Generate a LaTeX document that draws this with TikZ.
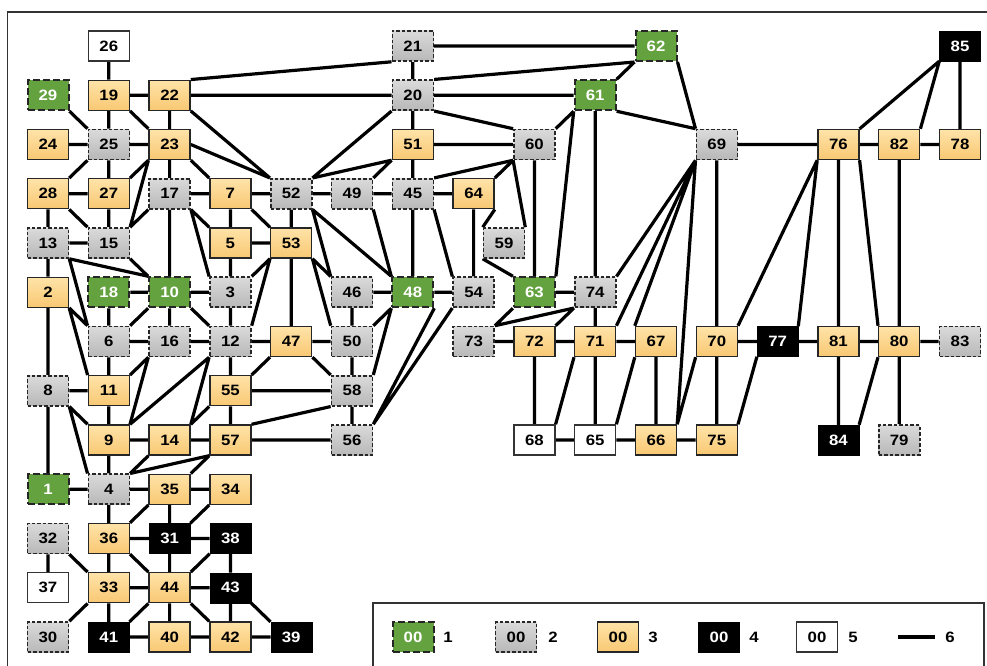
\documentclass[tikz,border=0pt]{standalone}
\usepackage{fontspec}
\setmainfont{Liberation Sans}[FakeStretch=1.12]
\usepackage{xcolor}
\usetikzlibrary{backgrounds}
\definecolor{ggreen}{HTML}{63A23F}
\definecolor{otop}{HTML}{FFE3A8}
\definecolor{obot}{HTML}{F8C873}
\definecolor{stop}{HTML}{DADADA}
\definecolor{sbot}{HTML}{B8B8B8}

\begin{document}
\begin{tikzpicture}[x=1pt,y=-1pt,
	box/.style={minimum width=41pt,minimum height=30pt,inner sep=0pt,font=\fontsize{15pt}{15pt}\selectfont\bfseries},
	gbox/.style={box,fill=ggreen,draw=black!85,line width=2pt,dash pattern=on 7pt off 3pt,text=white},
	sbox/.style={box,top color=stop,bottom color=sbot,draw=black!85,line width=1.6pt,dash pattern=on 3.5pt off 2pt},
	obox/.style={box,top color=otop,bottom color=obot,draw=black!85,line width=1.4pt},
	kbox/.style={box,fill=black,draw=black,text=white},
	wbox/.style={box,fill=white,draw=black!80,line width=1.4pt},
	lab/.style={font=\fontsize{15pt}{15pt}\selectfont\bfseries},
	link/.style={line width=3.2pt}]
	\useasboundingbox (0,0) rectangle (987,666);
	\clip (0,0) rectangle (987,666);
	\draw[line width=1.5pt,black!80] (7.5,12) rectangle (1000,690); % frame
	
	% nodes: name/column/row
	\foreach \n/\c/\r in {29/0/1,18/1/5,10/2/5,1/0/9,62/10/0,61/9/1,48/6/5,63/8/5}
	\node[gbox] (n\n) at ({48+60.8*\c},{46+49.25*\r}) {\n};
	\foreach \n/\c/\r in {25/1/2,17/2/3,52/4/3,13/0/4,15/1/4,3/3/5,6/1/6,16/2/6,12/3/6,8/0/7,4/1/9,32/0/10,30/0/12,
		21/6/0,20/6/1,49/5/3,45/6/3,46/5/5,50/5/6,58/5/7,56/5/8,60/8/2,59/7.5/4,54/7/5,73/7/6,74/9/5,69/11/2,83/15/6,79/14/8}
	\node[sbox] (n\n) at ({48+60.8*\c},{46+49.25*\r}) {\n};
	\foreach \n/\c/\r in {19/1/1,22/2/1,24/0/2,23/2/2,28/0/3,27/1/3,7/3/3,5/3/4,53/4/4,2/0/5,11/1/7,55/3/7,47/4/6,9/1/8,
		14/2/8,57/3/8,35/2/9,34/3/9,36/1/10,33/1/11,44/2/11,40/2/12,42/3/12,51/6/2,64/7/3,72/8/6,71/9/6,67/10/6,
		66/10/8,75/11/8,70/11/6,76/13/2,82/14/2,78/15/2,81/13/6,80/14/6}
	\node[obox] (n\n) at ({48+60.8*\c},{46+49.25*\r}) {\n};
	\foreach \n/\c/\r in {31/2/10,38/3/10,43/3/11,41/1/12,39/4/12,77/12/6,84/13/8,85/15/0}
	\node[kbox] (n\n) at ({48+60.8*\c},{46+49.25*\r}) {\n};
	\foreach \n/\c/\r in {26/1/0,37/0/11,68/8/8,65/9/8}
	\node[wbox] (n\n) at ({48+60.8*\c},{46+49.25*\r}) {\n};
	
	\begin{scope}[on background layer]
		\fill[white] (0,0) rectangle (987,666);
		% upper left
		\draw[link] (n26) -- (n19) (n19) -- (n22) (n19) -- (n25) (n19.south east) -- (n23.north west)
		(n22) -- (n23) (n22.north east) -- (n21.south west) (n22) -- (n20) (n22.south east) -- (n52.north west)
		(n29.south east) -- (n25.north west) (n24) -- (n25) (n25) -- (n23) (n25.south west) -- (n28.north east)
		(n25) -- (n27) (n23.east) -- (n52.north west) (n23) -- (n17) (n23.south east) -- (n7.north west)
		(n23.south west) -- (n27.north east) (n23.south west) -- (n15.north east) (n28) -- (n27) (n28) -- (n13)
		(n28.south east) -- (n15.north west) (n27) -- (n15) (n17) -- (n7) (n7) -- (n52) (n52) -- (n49)
		(n17.south west) -- (n15.north east) (n17) -- (n10) (n17.south east) -- (n5.north west)
		(n17.south east) -- (n3.north west) (n7) -- (n5) (n7.south east) -- (n53.north west) (n5) -- (n53)
		(n5) -- (n3) (n52) -- (n53) (n53.south west) -- (n3.north east) (n53.south west) -- (n12.north east)
		(n53) -- (n47) (n53.south east) -- (n46.north west) (n53.south east) -- (n50.north west)
		(n52.south east) -- (n46.north west) (n52.south east) -- (n48.north west);
		% middle
		\draw[link] (n52.north east) -- (n51.south west) (n52.north east) -- (n20.south west) (n49) -- (n45)
		(n49.north east) -- (n51.south west) (n49.south east) -- (n48.north west) (n45) -- (n48)
		(n45.south east) -- (n54.north west) (n45) -- (n64) (n45.north east) -- (n60.south west) (n51) -- (n45)
		(n51) -- (n60) (n20) -- (n51) (n20.south east) -- (n60.north west) (n21) -- (n20) (n21) -- (n62)
		(n20.north east) -- (n62.south west) (n20) -- (n61) (n60.south west) -- (n64.north east)
		(n60.south west) -- (n59.north east) (n64) -- (n54) (n64.south east) -- (n59.north west)
		(n59.south west) -- (n63.north west) (n60) -- (n63) (n61.south west) -- (n63.north east)
		(n61.south west) -- (n60.north east) (n61) -- (n74) (n61.north east) -- (n62.south west)
		(n61.south east) -- (n69.north west) (n62.south east) -- (n69.north west)
		(n46) -- (n48) (n48) -- (n54) (n46) -- (n50) (n48.south west) -- (n50.north east)
		(n48.south west) -- (n58.north east) (n48.south east) -- (n56.north east) (n54.south west) -- (n56.north east)
		(n50) -- (n58) (n47) -- (n50) (n12) -- (n47) (n47.south west) -- (n55.north east)
		(n47.south east) -- (n58.north west) (n55) -- (n58) (n58) -- (n56) (n58.south west) -- (n57.north east)
		(n57) -- (n56);
		% right
		\draw[link] (n69) -- (n76) (n69.south west) -- (n74.north east) (n69.south west) -- (n71.north east)
		(n69.south west) -- (n67.north west) (n69.south west) -- (n66.north east) (n69) -- (n70) (n63) -- (n74)
		(n63.south west) -- (n73.north east) (n74.south west) -- (n73.north east) (n74.south west) -- (n72.north east)
		(n74) -- (n71) (n73) -- (n72) (n72) -- (n71) (n71) -- (n67) (n72) -- (n68) (n68.north east) -- (n71.south west)
		(n68) -- (n65) (n65) -- (n71) (n65.north east) -- (n67.south west) (n65) -- (n66) (n67) -- (n66)
		(n66.north east) -- (n70.south west) (n66) -- (n75) (n70) -- (n75) (n70) -- (n77)
		(n75.north east) -- (n77.south west) (n76.south west) -- (n70.north east) (n76.south west) -- (n77.north east)
		(n76) -- (n81) (n76.south east) -- (n80.north west) (n76) -- (n82) (n82) -- (n78) (n82) -- (n80)
		(n85.south west) -- (n76.north east) (n85.south west) -- (n82.north east) (n85) -- (n78) (n77) -- (n81)
		(n81) -- (n80) (n80) -- (n83) (n81) -- (n84) (n80.south west) -- (n84.north east) (n80) -- (n79);
		% lower left
		\draw[link] (n13) -- (n15) (n13) -- (n2) (n13.south east) -- (n10.north west) (n15.south east) -- (n10.north west)
		(n13.south east) -- (n6.north west) (n2.south east) -- (n6.north west) (n2.south east) -- (n11.north west)
		(n18) -- (n10) (n18) -- (n6) (n10) -- (n3) (n10.south west) -- (n6.north east) (n10) -- (n16)
		(n10.south east) -- (n12.north west) (n3) -- (n12) (n6) -- (n16) (n16) -- (n12) (n6) -- (n11)
		(n16.south west) -- (n11.north east) (n16.south west) -- (n9.north east) (n12.south west) -- (n9.north east)
		(n12.south west) -- (n14.north east) (n12) -- (n55) (n8) -- (n11) (n2) -- (n8) (n8) -- (n1)
		(n8.south east) -- (n9.north west) (n8.south east) -- (n4.north west) (n11) -- (n9) (n9) -- (n14)
		(n14) -- (n57) (n55) -- (n57) (n55.south west) -- (n14.north east) (n9) -- (n4)
		(n14.south west) -- (n4.north east) (n57.south west) -- (n4.north east) (n57.south west) -- (n35.north east)
		(n1) -- (n4) (n4) -- (n35) (n4) -- (n36) (n35) -- (n34) (n35.south west) -- (n36.north east) (n35) -- (n31)
		(n34.south west) -- (n31.north east) (n36) -- (n31) (n31) -- (n38) (n36) -- (n33)
		(n36.south east) -- (n44.north west) (n31) -- (n44) (n38.south west) -- (n44.north east) (n38) -- (n43)
		(n32) -- (n37) (n32.south east) -- (n33.north west) (n33) -- (n44) (n44) -- (n43)
		(n33.south west) -- (n30.north east) (n33) -- (n41) (n44.south west) -- (n41.north east) (n44) -- (n40)
		(n44.south east) -- (n42.north west) (n43) -- (n42) (n43.south east) -- (n39.north west)
		(n41) -- (n40) (n40) -- (n42) (n42) -- (n39);
	\end{scope}
	
	% legend
	\draw[line width=1.5pt,black!80] (373,603) rectangle (984,700);
	\node[gbox] (l1) at (413,637) {00};
	\node[lab] (t1) at (448,637) {1};
	\node[sbox] (l2) at (516,637) {00};
	\node[lab] (t2) at (553,637) {2};
	\node[obox] (l3) at (618,637) {00};
	\node[lab] (t3) at (653,637) {3};
	\node[kbox] (l4) at (719,637) {00};
	\node[lab] (t4) at (754,637) {4};
	\node[wbox] (l5) at (817,637) {00};
	\node[lab] (t5) at (853,637) {5};
	\coordinate (l6a) at (898,637);
	\coordinate (l6b) at (935,637);
	\draw[link] (l6a) -- (l6b);
	\node[lab] (t6) at (950,637) {6};
\end{tikzpicture}
\end{document}
